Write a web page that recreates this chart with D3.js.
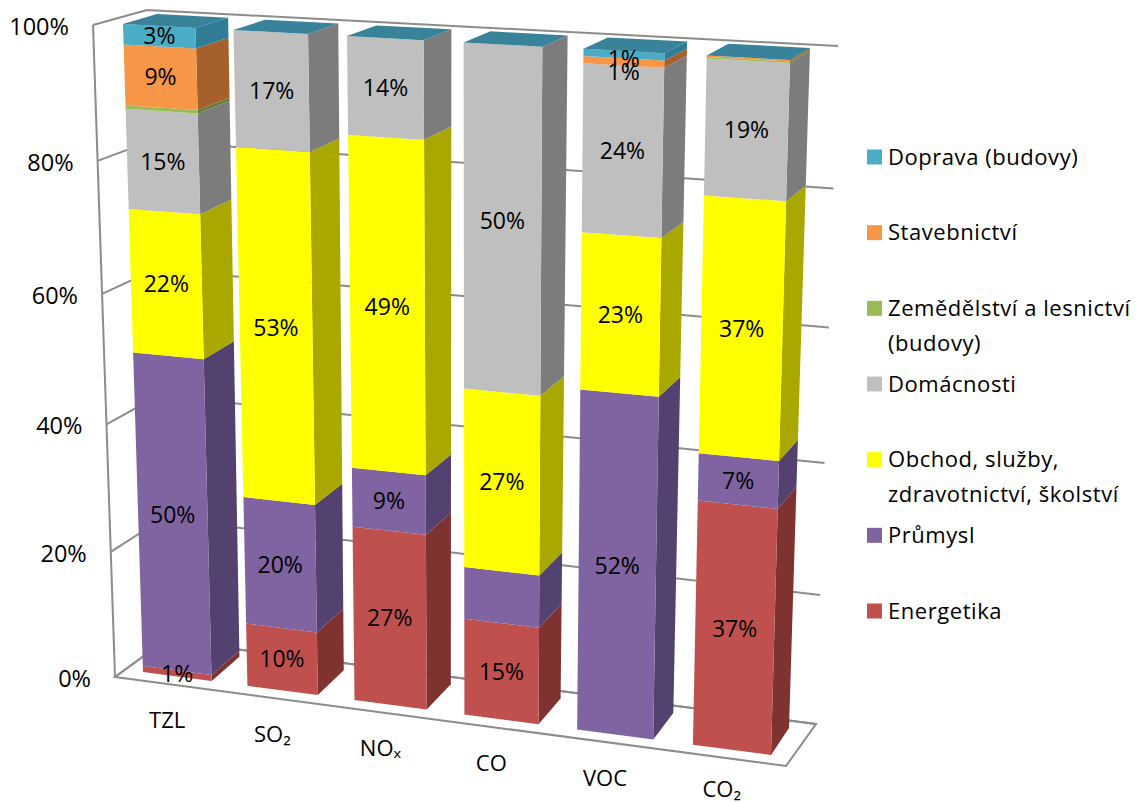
<!DOCTYPE html>
<html lang="cs">
<head>
<meta charset="utf-8">
<title>Podíl sektorů na emisích</title>
<script src="https://cdn.jsdelivr.net/npm/d3@7/dist/d3.min.js"></script>
<style>
  html, body { margin: 0; padding: 0; background: #fff; }
  svg { display: block; }
  text { font-family: "Open Sans", "Noto Sans", sans-serif; fill: #000; }
</style>
</head>
<body>
<svg id="chart" width="1137" height="803"></svg>
<script>
// Pollutant categories, bottom-to-top stacked shares in percent.
const categories = ["TZL", "SO₂", "NOₓ", "CO", "VOC", "CO₂"];
const energetika  = [1, 10, 27, 15, 0, 37];
const prumysl     = [50, 20, 9, 8, 52, 7];
const obchod      = [22, 53, 49, 27, 23, 37];
const domacnosti  = [15, 17, 14, 50, 24, 19];
const zemedelstvi = [0.5, 0, 0, 0, 0, 0.2];
const stavebnictvi = [9, 0, 0, 0, 1, 0.2];
const doprava     = [3, 0, 0, 0, 1, 0];

const seriesNames = ["Energetika", "Průmysl", "Obchod, služby, zdravotnictví, školství",
  "Domácnosti", "Zemědělství a lesnictví (budovy)", "Stavebnictví", "Doprava (budovy)"];
const seriesValues = [energetika, prumysl, obchod, domacnosti, zemedelstvi, stavebnictvi, doprava];
const frontColors = ["#C0504D", "#8064A2", "#FFFF00", "#BFBFBF", "#9BBB59", "#F79646", "#4BACC6"];
const sideColors  = ["#7F3331", "#53416F", "#A8A800", "#7C7C7C", "#66803A", "#A5602C", "#2F7C94"];
const topColor = "#388399";
const gridColor = "#8C8C8C";
const axisTicks = [0, 0.2, 0.4, 0.6, 0.8, 1];
const unlabelled = [["CO", "Průmysl"]];
// Thin neighbouring segments push their labels apart so both stay legible.
const labelShift = [["VOC", "Doprava (budovy)", 4], ["VOC", "Stavebnictví", 10]];

// Legend runs top-down; long names wrap on two lines.
const legendOrder = [
  ["Doprava (budovy)"],
  ["Stavebnictví"],
  ["Zemědělství a lesnictví", "(budovy)"],
  ["Domácnosti"],
  ["Obchod, služby,", "zdravotnictví, školství"],
  ["Průmysl"],
  ["Energetika"]
];
const legendColors = ["#4BACC6", "#F79646", "#9BBB59", "#BFBFBF", "#FFFF00", "#8064A2", "#C0504D"];

// Square-to-quad projective map, used for every plane of the 3D frame.
function planeMap(p0, p1, p2, p3) {
  const [x0, y0] = p0, [x1, y1] = p1, [x2, y2] = p2, [x3, y3] = p3;
  const dx1 = x1 - x2, dx2 = x3 - x2, sx = x0 - x1 + x2 - x3;
  const dy1 = y1 - y2, dy2 = y3 - y2, sy = y0 - y1 + y2 - y3;
  const den = dx1 * dy2 - dx2 * dy1;
  const g = (sx * dy2 - dx2 * sy) / den, h = (dx1 * sy - sx * dy1) / den;
  const a = x1 - x0 + g * x1, b = x3 - x0 + h * x3;
  const d = y1 - y0 + g * y1, e = y3 - y0 + h * y3;
  return (u, v) => {
    const w = g * u + h * v + 1;
    return [(a * u + b * v + x0) / w, (d * u + e * v + y0) / w];
  };
}

// Frame planes: (u, v) = (along categories, up the value axis).
const barFront = planeMap([143, 672], [771, 755], [790, 60], [123, 24]);
const barBack  = planeMap([172, 648], [789, 728], [810, 48], [157, 14]);
const backWall = planeMap([165.6, 640], [816, 724], [838, 46], [147, 10]);
const sideWall = planeMap([115, 677], [165.6, 640], [147, 10], [93, 25]);
const floorFrontLeft = [115, 677], floorFrontRight = [786, 766];

const svg = d3.select("#chart");
const xBand = d3.scaleBand().domain(categories).range([0, 1]).paddingInner(0.34);
const yValue = d3.scaleLinear().domain([0, 1]).range([0, 1]);
const line = d3.line();
const closed = pts => line(pts) + "Z";

// Walls and gridlines
const frame = svg.append("g").attr("fill", "none").attr("stroke", gridColor).attr("stroke-width", 2);
frame.selectAll("path.grid").data(axisTicks).join("path")
  .attr("class", "grid")
  .attr("d", t => line([sideWall(0, yValue(t)), sideWall(1, yValue(t)), backWall(1, yValue(t))]));
frame.append("path").attr("d", line([sideWall(0, 0), sideWall(0, 1)]));
frame.append("path").attr("d", closed([floorFrontLeft, floorFrontRight, backWall(1, 0), backWall(0, 0)]));

// Stacked columns
const rows = categories.map((c, i) => {
  const row = { category: c };
  seriesNames.forEach((s, k) => { row[s] = seriesValues[k][i]; });
  return row;
});
const stacked = d3.stack().keys(seriesNames).offset(d3.stackOffsetExpand)(rows);

const bars = svg.append("g").selectAll("g").data(categories).join("g");
bars.each(function (cat, i) {
  const g = d3.select(this);
  const u0 = xBand(cat), u1 = u0 + xBand.bandwidth();
  stacked.forEach((layer, k) => {
    const [lo, hi] = layer[i];
    if (hi - lo <= 0) return;
    const v0 = yValue(lo), v1 = yValue(hi);
    g.append("path").attr("fill", sideColors[k])
      .attr("d", closed([barFront(u1, v0), barBack(u1, v0), barBack(u1, v1), barFront(u1, v1)]));
    g.append("path").attr("fill", frontColors[k])
      .attr("d", closed([barFront(u0, v0), barFront(u1, v0), barFront(u1, v1), barFront(u0, v1)]));
  });
  g.append("path").attr("fill", topColor)
    .attr("d", closed([barFront(u0, 1), barFront(u1, 1), barBack(u1, 1), barBack(u0, 1)]));
});

// Value labels centred on each segment's front face
const isHidden = (cat, name) => unlabelled.some(([c, n]) => c === cat && n === name);
const shiftOf = (cat, name) => {
  const hit = labelShift.find(([c, n]) => c === cat && n === name);
  return hit ? hit[2] : 0;
};
const labels = svg.append("g").attr("font-size", 23).attr("text-anchor", "middle");
stacked.forEach((layer, k) => {
  layer.forEach((span, i) => {
    const value = seriesValues[k][i], cat = categories[i];
    if (value < 1 || isHidden(cat, seriesNames[k])) return;
    const uMid = xBand(cat) + xBand.bandwidth() / 2;
    const [x, y] = barFront(uMid, yValue((span[0] + span[1]) / 2));
    labels.append("text").attr("x", x).attr("y", y + shiftOf(cat, seriesNames[k]))
      .attr("dy", "0.35em").text(value + "%");
  });
});

// Value axis labels follow the slanted front edge of the side wall
const axisLabels = svg.append("g").attr("font-size", 23.5).attr("text-anchor", "end");
axisLabels.selectAll("text").data(axisTicks).join("text")
  .attr("x", t => sideWall(0, yValue(t))[0] - 24)
  .attr("y", t => sideWall(0, yValue(t))[1] + 1.5)
  .attr("dy", "0.35em")
  .text(d3.format(".0%"));

// Category labels sit below the floor, shifted along with it and kept on the canvas
const catLabels = svg.append("g").attr("font-size", 22).attr("text-anchor", "middle");
catLabels.selectAll("text").data(categories).join("text")
  .attr("x", c => barFront(xBand(c) + xBand.bandwidth() / 2, 0)[0] - 10)
  .attr("y", c => Math.min(barFront(xBand(c) + xBand.bandwidth() / 2, 0)[1] + 51.5, 796.5))
  .text(c => c);

// Legend
const legendY = d3.scalePoint().domain(d3.range(legendOrder.length)).range([157, 611]);
const legend = svg.append("g").selectAll("g").data(legendOrder).join("g")
  .attr("transform", (d, i) => `translate(867,${legendY(i)})`);
legend.append("rect").attr("y", -7.5).attr("width", 15).attr("height", 15)
  .attr("fill", (d, i) => legendColors[i]);
legend.append("text").attr("font-size", 22).attr("letter-spacing", 0.55).each(function (lines) {
  d3.select(this).selectAll("tspan").data(lines).join("tspan")
    .attr("x", 21).attr("y", (l, j) => j * 34.5).attr("dy", "0.35em").text(l => l);
});
</script>
</body>
</html>
